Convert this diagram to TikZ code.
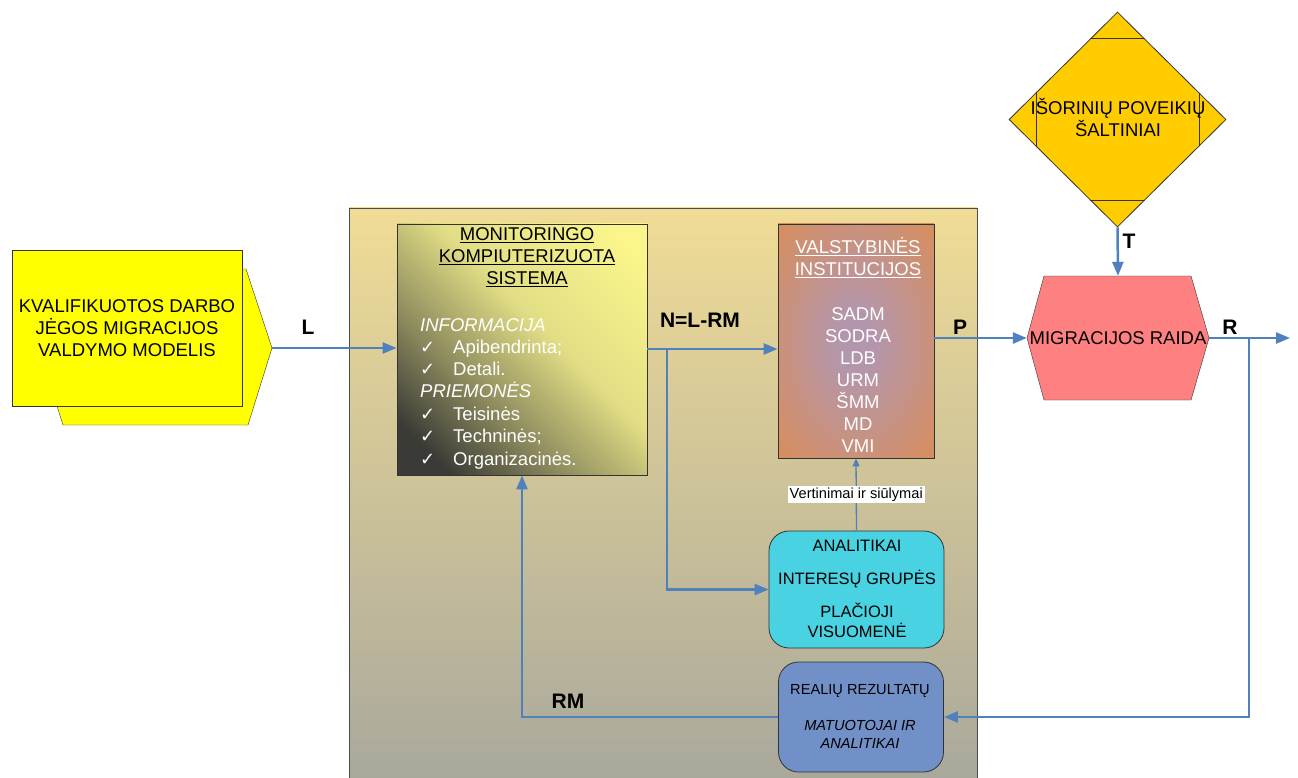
\documentclass[tikz,border=0pt]{standalone}
\usepackage{fontspec}
\setmainfont{Liberation Sans}
\newfontfamily\dejavu{DejaVu Sans}
\usetikzlibrary{arrows.meta,shapes.geometric}
\definecolor{flowblue}{HTML}{4F81BD}
\definecolor{paneltop}{HTML}{F0DC96}
\definecolor{panelmid}{HTML}{D6CBA0}
\definecolor{panelbot}{HTML}{A9A89C}
\definecolor{modelyel}{HTML}{FFFF00}
\definecolor{srcgold}{HTML}{FFCC00}
\definecolor{hexred}{HTML}{FF8080}
\definecolor{anacyan}{HTML}{48D2E2}
\definecolor{resblue}{HTML}{7290C8}
\definecolor{instout}{HTML}{D68E60}
\definecolor{instin}{HTML}{B496AC}
\definecolor{mdark}{HTML}{3A3A36}
\definecolor{molive}{HTML}{8E8C5E}
\definecolor{myel}{HTML}{E2DE86}
\definecolor{mlight}{HTML}{FAF68A}
\pgfdeclareverticalshading{monshade}{100bp}{color(0bp)=(mdark); color(22bp)=(mdark); color(38bp)=(molive);
  color(56bp)=(myel); color(80bp)=(mlight); color(100bp)=(mlight)}
\pgfdeclareradialshading{instshade}{\pgfpoint{0bp}{0bp}}{color(0bp)=(instin); color(6bp)=(instin);
  color(34bp)=(instout); color(50bp)=(instout)}
\newcommand{\chkmark}{\makebox[33pt][l]{\dejavu\fontsize{18}{18}\selectfont ✓}}

\begin{document}
\begin{tikzpicture}
  [x=1pt,y=-1pt,
   every node/.style={inner sep=0pt},
   big/.style={font=\fontsize{18.5}{22}\selectfont},
   mid/.style={font=\fontsize{16.5}{20}\selectfont},
   small/.style={font=\fontsize{14.6}{18}\selectfont},
   lbl/.style={font=\bfseries\fontsize{21}{24}\selectfont},
   box/.style={draw=black!80, line width=.8pt},
   flow/.style={draw=flowblue, line width=2.5pt, -{Triangle[length=14pt,width=11pt]}},
   thinflow/.style={draw=flowblue, line width=1.3pt, -{Triangle[length=8pt,width=7pt]}}]
  \useasboundingbox (0,0) rectangle (1298,778);

  % panel behind the system
  \shade[top color=paneltop, middle color=panelmid, bottom color=panelbot] (349,208) rectangle (977,778);
  \draw[black!70] (349,778) -- (349,208) -- (977,208) -- (977,778);

  % model
  \filldraw[fill=modelyel, draw=black!80] (57,269) -- (246,269) -- (272,348) -- (248,425) -- (63,425) -- (57,406) -- cycle;
  \coordinate (tip) at (272,348);
  \node[box, fill=modelyel, big, align=center, minimum width=230pt, minimum height=156pt] (model) at (127,328)
    {KVALIFIKUOTOS DARBO\\JĖGOS MIGRACIJOS\\VALDYMO MODELIS};

  % monitoring system
  \node[box, shading=monshade, shading angle=-45, minimum width=250pt, minimum height=251pt] (monit) at (522,349.5) {};
  \node[big, align=center] (montitle) at (527,257.5)
    {\underline{MONITORINGO}\\\underline{KOMPIUTERIZUOTA}\\\underline{SISTEMA}};
  \foreach \y/\txt in {331/\textit{INFORMACIJA}, 353/\chkmark Apibendrinta;, 375/\chkmark Detali.,
                       397/\textit{PRIEMONĖS}, 420/\chkmark Teisinės, 442/\chkmark Techninės;, 465/\chkmark Organizacinės.}
    \node[big, white, anchor=base west] (mon\y) at (420,\y) {\txt};

  % institutions
  \node[box, shading=instshade, minimum width=156pt, minimum height=234pt] (inst) at (856,341) {};
  \node[big, white, align=center] (insttitle) at (858,258) {\underline{VALSTYBINĖS}\\\underline{INSTITUCIJOS}};
  \foreach \y/\txt in {320/SADM, 342/SODRA, 364/LDB, 386/URM, 408/ŠMM, 430/MD, 452/VMI}
    \node[big, white, anchor=base] (ins\y) at (858,\y) {\txt};

  % analysts
  \node[box, rounded corners=20pt, fill=anacyan, minimum width=175pt, minimum height=117pt] (analit) at (856.5,589.5) {};
  \foreach \y/\txt in {551/ANALITIKAI, 584/INTERESŲ GRUPĖS, 617/PLAČIOJI, 637/VISUOMENĖ}
    \node[mid, anchor=base] (an\y) at (857,\y) {\txt};

  % real results
  \node[box, rounded corners=20pt, fill=resblue, minimum width=165pt, minimum height=110pt] (rezult) at (861,717) {};
  \node[small, anchor=base] (rez1) at (860,694) {REALIŲ REZULTATŲ};
  \node[small, anchor=base] (rez2) at (860,730) {\textit{MATUOTOJAI IR}};
  \node[small, anchor=base] (rez3) at (860,748) {\textit{ANALITIKAI}};

  % external sources
  \node[diamond, box, fill=srcgold, minimum width=217pt, minimum height=215pt] (saltin) at (1117.5,119.5) {};
  \begin{scope}
    \clip (saltin.north) -- (saltin.east) -- (saltin.south) -- (saltin.west) -- cycle;
    \draw[black!80] (1036,38) rectangle (1199,200);
  \end{scope}
  \node[big, align=center] (saltintxt) at (1118,118) {IŠORINIŲ POVEIKIŲ\\ŠALTINIAI};

  % development
  \filldraw[fill=hexred, draw=black!80] (1027,338) -- (1044,276) -- (1191,276) -- (1209,338) -- (1191,400) -- (1044,400) -- cycle;
  \node[big, minimum width=182pt, minimum height=124pt] (raida) at (1118,338) {MIGRACIJOS RAIDA};

  % connectors
  \coordinate (nj) at (667,349);
  \coordinate (rj) at (1249,338);
  \coordinate (rout) at (1290,338);
  \draw[flow] (tip) -- (tip -| monit.west);
  \draw[flow] (monit.east |- nj) -- (nj -| inst.west);
  \draw[flow] (nj) |- (analit.west);
  \draw[flow] (inst.east |- raida.west) -- (raida.west);
  \draw[flow] (saltin.south) -- (raida.north);
  \draw[flow] (raida.east) -- (rout);
  \draw[flow] (rj) |- (rezult.east);
  \draw[flow] (rezult.west) -| (monit.south);
  \draw[thinflow] (analit.north) -- node[small, fill=white, inner sep=2pt] (vert) {Vertinimai ir siūlymai} (inst.south);

  % labels
  \node[lbl, anchor=base] (lL) at (308,334) {L};
  \node[lbl, anchor=base] (lN) at (700,327) {N=L-RM};
  \node[lbl, anchor=base] (lP) at (960,334) {P};
  \node[lbl, anchor=base] (lT) at (1129,248) {T};
  \node[lbl, anchor=base] (lR) at (1230,334) {R};
  \node[lbl, anchor=base] (lRM) at (568,708) {RM};
\end{tikzpicture}
\end{document}
